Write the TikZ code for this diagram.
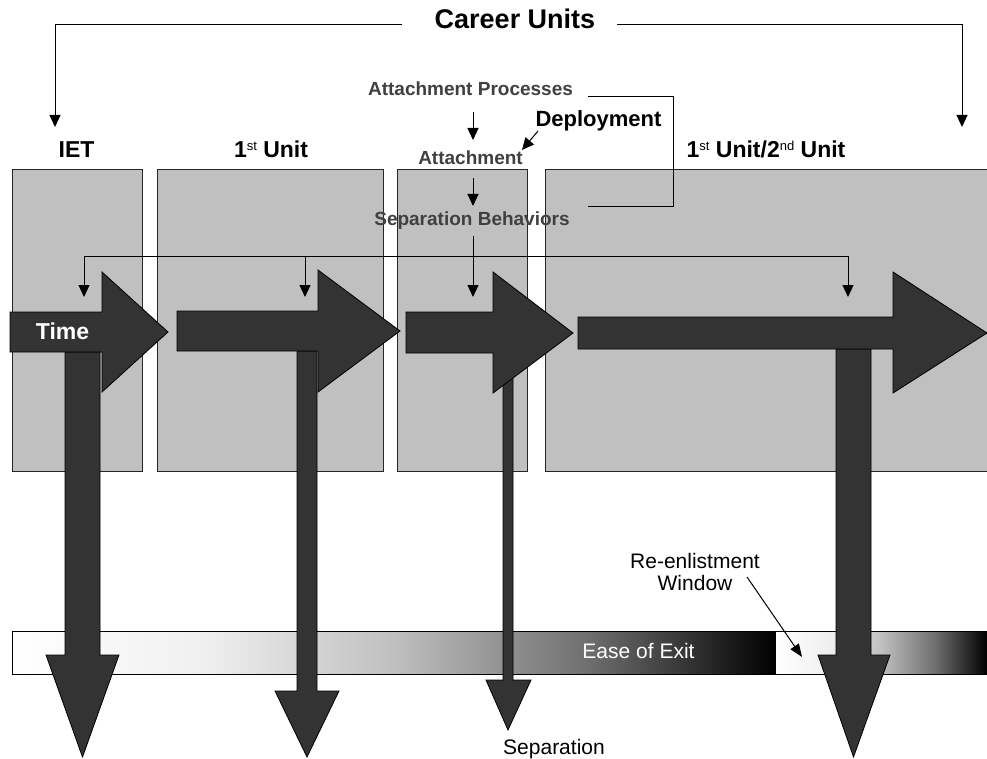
\documentclass[tikz,border=0pt]{standalone}
\usepackage{fontspec}
\setmainfont{Liberation Sans}
\usetikzlibrary{arrows.meta}

\definecolor{unitgray}{HTML}{C0C0C0}
\definecolor{arrowdark}{HTML}{333333}
\definecolor{labelgray}{HTML}{404040}

% white-to-black fade used for the "Ease of Exit" bar
\pgfdeclarehorizontalshading{exitfade}{100bp}{%
  color(0bp)=(white); color(25bp)=(white);
  color(37.5bp)=(black!6); color(50bp)=(black!25);
  color(62.5bp)=(black!56); color(75bp)=(black); color(100bp)=(black)}

\newcommand\fsz[1]{\fontsize{#1}{#1}\selectfont}
% small ordinal suffix, as in 1st / 2nd
\newcommand\ordsup[1]{\raisebox{7pt}{\fsz{13}\mdseries #1}}

\begin{document}
\begin{tikzpicture}[x=1pt,y=-1pt,
  unitbox/.style={fill=unitgray, draw=black!85, line width=0.9pt},
  bigarrow/.style={fill=arrowdark, draw=black, line width=0.8pt, line join=miter},
  link/.style={draw=black, line width=1pt},
  tip/.style={-{Triangle[width=11pt,length=12pt]}},
  heading/.style={font={\fsz{23}\bfseries}, inner sep=0pt, anchor=base},
  process/.style={font={\fsz{19}\bfseries}, text=labelgray, inner sep=0pt, anchor=base},
  plain/.style={font={\fsz{21}}, inner sep=0pt, anchor=base}]

\useasboundingbox (0,0) rectangle (987,759);
\fill[white] (0,0) rectangle (987,759);

% unit columns
\draw[unitbox] (12,169) rectangle (142,471);
\draw[unitbox] (157,169) rectangle (383,471);
\draw[unitbox] (397,169) rectangle (527,471);
\draw[unitbox] (545,169) rectangle (995,471);

% ease-of-exit bar
\shade[shading=exitfade] (12,631) rectangle (776,674);
\shade[shading=exitfade] (776,631) rectangle (987,674);
\draw[black, line width=1pt] (12,631) rectangle (995,674);
\node[plain, text=white] (ease) at (638.5,658) {Ease of Exit};

% exits to separation
\draw[bigarrow] (65,352) -- (100,352) -- (100,655) -- (119,655) -- (82.5,757) -- (46,655) -- (65,655) -- cycle;
\draw[bigarrow] (297,351) -- (317,351) -- (317,691) -- (339,691) -- (307,757) -- (275,691) -- (297,691) -- cycle;
\draw[bigarrow] (503,353) -- (513,353) -- (513,680) -- (531,680) -- (508,730) -- (486,680) -- (503,680) -- cycle;
\draw[bigarrow] (836,349) -- (871,349) -- (871,655) -- (890,655) -- (853.5,757) -- (818,655) -- (836,655) -- cycle;

% time line through the units
\draw[bigarrow] (10,312) -- (102,312) -- (102,272) -- (168,332) -- (102,392) -- (102,352) -- (10,352) -- cycle;
\draw[bigarrow] (177,311) -- (318,311) -- (318,270) -- (400,331) -- (318,392) -- (318,351) -- (177,351) -- cycle;
\draw[bigarrow] (406,312) -- (493,312) -- (493,272) -- (573,333) -- (493,393) -- (493,353) -- (406,353) -- cycle;
\draw[bigarrow] (578,317) -- (893,317) -- (893,272) -- (987,333) -- (893,393) -- (893,349) -- (578,349) -- cycle;
\node[heading, text=white] (time) at (62.5,339) {Time};

% labels
\node[heading, font={\fsz{27}\bfseries}] (career) at (515,29) {Career Units};
\node[heading] (iet) at (76.5,158) {IET};
\node[heading] (unit1) at (271,158) {1\ordsup{st} Unit};
\node[heading] (unit2) at (766,158) {1\ordsup{st} Unit/2\ordsup{nd} Unit};
\node[process] (proc) at (470.5,96) {Attachment Processes};
\node[process] (attach) at (470.5,165) {Attachment};
\node[process] (behav) at (472,226) {Separation Behaviors};
\node[heading, font={\fsz{22}\bfseries}] (deploy) at (598.5,127) {Deployment};
\node[plain] (separation) at (554,754) {Separation};
\node[font={\fsz{21}}, inner sep=0pt, anchor=north, align=center,
      execute at begin node=\setlength{\baselineskip}{22pt}] (window) at (695,553) {Re-enlistment\\Window};

% career-unit brackets
\coordinate (cuL) at (402,25);
\coordinate (cuR) at (617,25);
\coordinate (ietIn) at (55,127);
\coordinate (lastIn) at (962,127);
\draw[link,tip] (cuL) -| (ietIn);
\draw[link,tip] (cuR) -| (lastIn);

% attachment process chain
\coordinate (procEnd) at (588,97);
\coordinate (behavEnd) at (588,207);
\draw[link] (procEnd) -- ++(85,0) |- (behavEnd);
\coordinate (procOut) at (473,112);
\coordinate (attachIn) at (473,140);
\coordinate (attachOut) at (473,178);
\coordinate (behavIn) at (473,206);
\coordinate (behavOut) at (473,236);
\draw[link,tip] (procOut) -- (attachIn);
\draw[link,tip] (attachOut) -- (behavIn);
\coordinate (deployOut) at (538,131);
\coordinate (attachEnd) at (522,150);
\draw[link,tip] (deployOut) -- (attachEnd);

% separation behaviours reach every unit
\coordinate (t1) at (84,297);
\coordinate (t2) at (305,297);
\coordinate (t3) at (473,297);
\coordinate (t4) at (848,297);
\coordinate (fanR) at (848,257);
\draw[link,{Triangle[width=11pt,length=12pt]}-{Triangle[width=11pt,length=12pt]}] (t1) |- (fanR) -- (t4);
\draw[link,tip] (t2 |- fanR) -- (t2);
\draw[link,tip] (behavOut) -- (t3);

% re-enlistment window pointer
\coordinate (winOut) at (747,577);
\coordinate (winIn) at (802,657);
\draw[link,-{Triangle[width=10pt,length=13pt]}] (winOut) -- (winIn);
\end{tikzpicture}
\end{document}
